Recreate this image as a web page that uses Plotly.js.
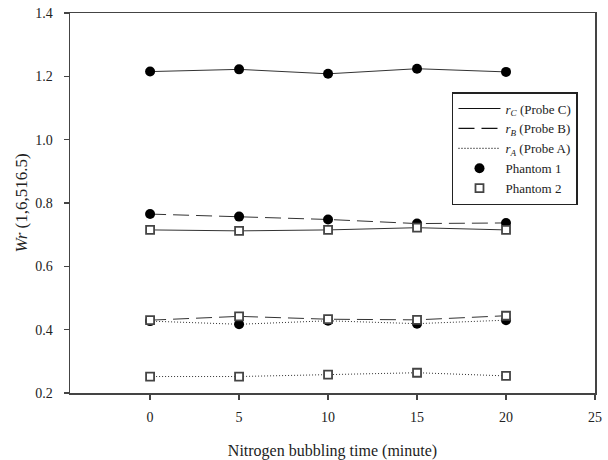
<!DOCTYPE html>
<html>
<head>
<meta charset="utf-8">
<script src="https://cdn.plot.ly/plotly-3.0.1.min.js"></script>
<style>
  html, body { margin: 0; padding: 0; background: #fff; }
  #chart { width: 608px; height: 460px; }
</style>
</head>
<body>
<div id="chart"></div>
<script>
// Bubbling time (minutes)
const bubblingTime = [0, 5, 10, 15, 20];

// Phantom 1 readings for each probe
const phantom1ProbeC = [1.215, 1.222, 1.208, 1.224, 1.214];
const phantom1ProbeB = [0.765, 0.757, 0.748, 0.735, 0.737];
const phantom1ProbeA = [0.427, 0.417, 0.428, 0.419, 0.430];

// Phantom 2 readings for each probe
const phantom2ProbeC = [0.715, 0.712, 0.715, 0.722, 0.715];
const phantom2ProbeB = [0.430, 0.442, 0.433, 0.431, 0.444];
const phantom2ProbeA = [0.252, 0.252, 0.258, 0.264, 0.254];

const xTicks = [0, 5, 10, 15, 20, 25];
const yTicks = [0.2, 0.4, 0.6, 0.8, 1.0, 1.2, 1.4];

const serif = '"Liberation Serif", "Times New Roman", serif';
const ink = '#222';

const dashStyles = { C: 'solid', B: '16px,7px', A: '1px,2px' };

const circle = { symbol: 'circle', size: 10, color: '#000', line: { width: 0 } };
const square = { symbol: 'square', size: 8, color: '#fff', line: { color: '#444', width: 1.8 } };

function series(y, probe, marker) {
  return {
    x: bubblingTime, y: y, type: 'scatter', mode: 'lines+markers',
    line: { color: '#333', width: 1, dash: dashStyles[probe] },
    marker: marker, showlegend: false, hoverinfo: 'x+y'
  };
}

// Legend-only entries
function legendLine(name, probe) {
  return {
    x: [null], y: [null], type: 'scatter', mode: 'lines', name: name,
    line: { color: '#111', width: 1.2, dash: dashStyles[probe] }
  };
}
function legendMarker(name, marker) {
  return { x: [null], y: [null], type: 'scatter', mode: 'markers', name: name, marker: marker };
}

const data = [
  series(phantom1ProbeC, 'C', circle),
  series(phantom1ProbeB, 'B', circle),
  series(phantom1ProbeA, 'A', circle),
  series(phantom2ProbeC, 'C', square),
  series(phantom2ProbeB, 'B', square),
  series(phantom2ProbeA, 'A', square),
  legendLine('<i>r</i><sub><i>C</i></sub> (Probe C)', 'C'),
  legendLine('<i>r</i><sub><i>B</i></sub> (Probe B)', 'B'),
  legendLine('<i>r</i><sub><i>A</i></sub> (Probe A)', 'A'),
  legendMarker('Phantom 1', circle),
  legendMarker('Phantom 2', square)
];

const layout = {
  width: 608, height: 460,
  margin: { l: 70, r: 13, t: 13, b: 67 },
  paper_bgcolor: '#fff', plot_bgcolor: '#fff',
  font: { family: serif, color: ink, size: 14 },
  showlegend: true,
  legend: {
    x: 0.7276, y: 0.792, xanchor: 'left', yanchor: 'top',
    bgcolor: '#fff', bordercolor: '#222', borderwidth: 1.5,
    font: { family: serif, size: 13, color: ink },
    itemwidth: 42, tracegroupgap: 0
  },
  xaxis: {
    range: [-4.5, 25], tickvals: xTicks, ticktext: xTicks.map(String),
    showgrid: false, zeroline: false,
    showline: true, linecolor: '#444', linewidth: 1.5, mirror: true,
    ticks: 'outside', ticklen: 5, tickwidth: 1.5, tickcolor: '#444',
    ticklabelstandoff: 6,
    tickfont: { family: serif, size: 14, color: ink },
    title: { text: 'Nitrogen bubbling time (minute)', font: { family: serif, size: 16, color: ink }, standoff: 20 }
  },
  yaxis: {
    range: [0.2, 1.4], tickvals: yTicks, ticktext: yTicks.map(v => v.toFixed(1)),
    showgrid: false, zeroline: false,
    showline: true, linecolor: '#444', linewidth: 1.5, mirror: true,
    ticks: 'outside', ticklen: 5, tickwidth: 1.5, tickcolor: '#444',
    ticklabelstandoff: 8,
    tickfont: { family: serif, size: 14, color: ink },
    title: { text: '<i>Wr</i> (1,6,516.5)', font: { family: serif, size: 17, color: ink }, standoff: 3 }
  }
};

Plotly.newPlot('chart', data, layout, { displayModeBar: false, staticPlot: true });
</script>
</body>
</html>
